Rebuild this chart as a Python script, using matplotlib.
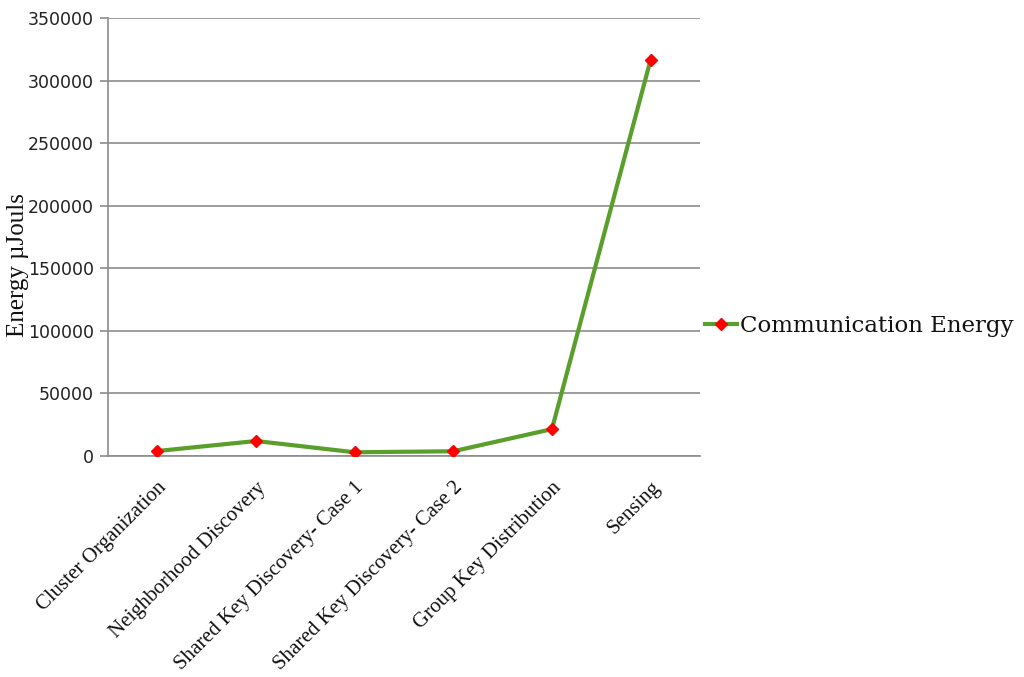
import matplotlib
matplotlib.use("Agg")
import matplotlib.pyplot as plt

categories = [
    "Cluster Organization",
    "Neighborhood Discovery",
    "Shared Key Discovery- Case 1",
    "Shared Key Discovery- Case 2",
    "Group Key Distribution",
    "Sensing",
]
energy = [4000, 12000, 3000, 3800, 21500, 316500]
y_ticks = [0, 50000, 100000, 150000, 200000, 250000, 300000, 350000]
series_name = "Communication Energy"
y_label = "Energy \u00b5Jouls"

fig = plt.figure(figsize=(10.24, 6.77), dpi=100)
ax = fig.add_axes([0.1055, 0.3264, 0.578, 0.647])

xs = [i + 0.5 for i in range(len(categories))]
line, = ax.plot(xs, energy, color="#5a9e2c", lw=3, marker="D", ms=6.5,
                mfc="#ff0000", mec="#ff0000", label=series_name, zorder=3)

ax.set_xlim(0, len(categories))
ax.set_ylim(0, 350000)
ax.set_yticks(y_ticks)
ax.set_yticklabels([str(v) for v in y_ticks], fontsize=12.5, color="#222222",
                   family="DejaVu Sans")
ax.yaxis.grid(True, color="#8c8c8c", lw=1.2)
ax.set_axisbelow(True)
ax.tick_params(axis="y", length=6, width=1.2, color="#8c8c8c", pad=4)
ax.tick_params(axis="x", length=0, pad=16)

ax.set_xticks(xs)
ax.set_xticklabels(categories, rotation=45, ha="right", rotation_mode="anchor",
                   fontsize=15, family="Liberation Serif", color="#111111")

for side in ("top", "right"):
    ax.spines[side].set_visible(False)
for side in ("left", "bottom"):
    ax.spines[side].set_color("#8c8c8c")
    ax.spines[side].set_linewidth(1.2)

fig.text(0.018, 0.609, y_label, rotation=90, ha="center", va="center",
         fontsize=18, family="Liberation Serif", color="#111111")

leg = fig.legend(handles=[line], loc="center left", bbox_to_anchor=(0.668, 0.518),
                 frameon=False, handlelength=1.4, handletextpad=0.15,
                 prop={"family": "DejaVu Serif", "size": 16.5})
for t in leg.get_texts():
    t.set_color("#111111")

fig.savefig("out.png", dpi=100, facecolor="white")
